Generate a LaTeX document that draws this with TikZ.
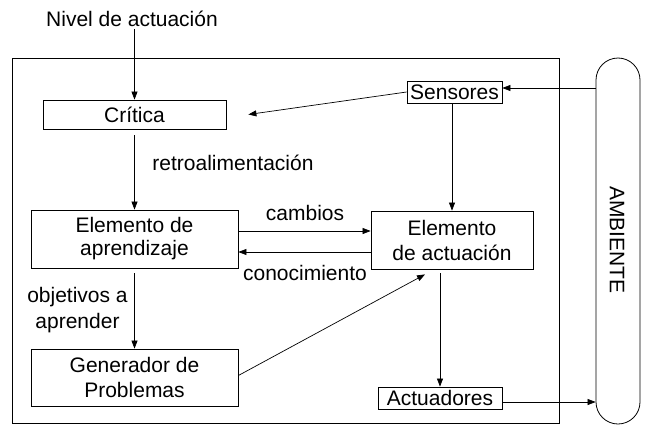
\documentclass[tikz,border=0pt]{standalone}
\usepackage{fontspec}
\setmainfont{Liberation Sans}
\usetikzlibrary{arrows.meta}
\begin{document}
\begin{tikzpicture}[x=1pt,y=-1pt,
  font=\fontsize{21}{23}\selectfont,
  box/.style={draw, line width=0.8pt, inner sep=0pt, align=center},
  arr/.style={-{Triangle[length=8pt,width=6pt]}, line width=0.7pt},
  lbl/.style={inner sep=0pt, align=center}]
\useasboundingbox (0,0) rectangle (655,431);
% frame and environment
\node[draw, line width=0.8pt, minimum width=547pt, minimum height=365pt, inner sep=0pt] (agent) at (285.5,240.5) {};
\node[draw, line width=0.8pt, rounded corners=22pt, minimum width=44pt, minimum height=366pt, inner sep=0pt] (amb) at (618,241) {};
\node[lbl, rotate=-90] (ambtxt) at (617,240) {AMBIENTE};
% boxes
\node[lbl] (nivel) at (132,19) {Nivel de actuación};
\node[box, minimum width=183pt, minimum height=29pt] (critica) at (134.5,114.5) {Crítica};
\node[box, minimum width=207pt, minimum height=58pt] (aprend) at (134.5,239) {Elemento de\\aprendizaje};
\node[box, minimum width=207pt, minimum height=57pt, font=\fontsize{21}{25}\selectfont] (gen) at (134.5,377.5) {Generador de\\Problemas};
\node[box, minimum width=162pt, minimum height=58pt, font=\fontsize{21}{25}\selectfont] (act) at (452,240) {Elemento\\de actuación};
\node[box, minimum width=95pt, minimum height=22pt] (sens) at (454.5,92) {Sensores};
\node[box, minimum width=124pt, minimum height=22pt] (actd) at (440,398) {Actuadores};
% labels
\node[lbl] (retro) at (233,163) {retroalimentación};
\node[lbl] (camb) at (305,213) {cambios};
\node[lbl] (cono) at (305,273) {conocimiento};
\node[lbl, font=\fontsize{21}{26}\selectfont] (obj) at (77.5,310) {objetivos a\\aprender};
% helper coordinates
\coordinate (yin) at (0,88);
\coordinate (yout) at (0,402);
\coordinate (critR) at ([xshift=22pt]critica.east);
\coordinate (actB) at ([xshift=-27pt,yshift=-5pt]act.south);
% connectors
\draw[arr, shorten <=2pt] (critica.north |- nivel.south) -- (critica.north);
\draw[arr, shorten <=6pt] (critica.south) -- (aprend.north);
\draw[arr, shorten <=5pt] (aprend.south) -- (gen.north);
\draw[arr] ([yshift=8pt]aprend.east) -- ([yshift=8pt]aprend.east -| act.west);
\draw[arr] ([yshift=-13pt]aprend.east -| act.west) -- ([yshift=-13pt]aprend.east);
\draw[arr] (sens.west) -- (critR);
\draw[arr] (amb.west |- yin) -- (sens.east |- yin);
\draw[arr] (sens.south -| act.north) -- (act.north);
\draw[arr, shorten <=4pt] (act.south -| actd.north) -- (actd.north);
\draw[arr] (actd.east |- yout) -- (amb.west |- yout);
\draw[arr] ([yshift=2pt]gen.east) -- (actB);
\end{tikzpicture}
\end{document}
